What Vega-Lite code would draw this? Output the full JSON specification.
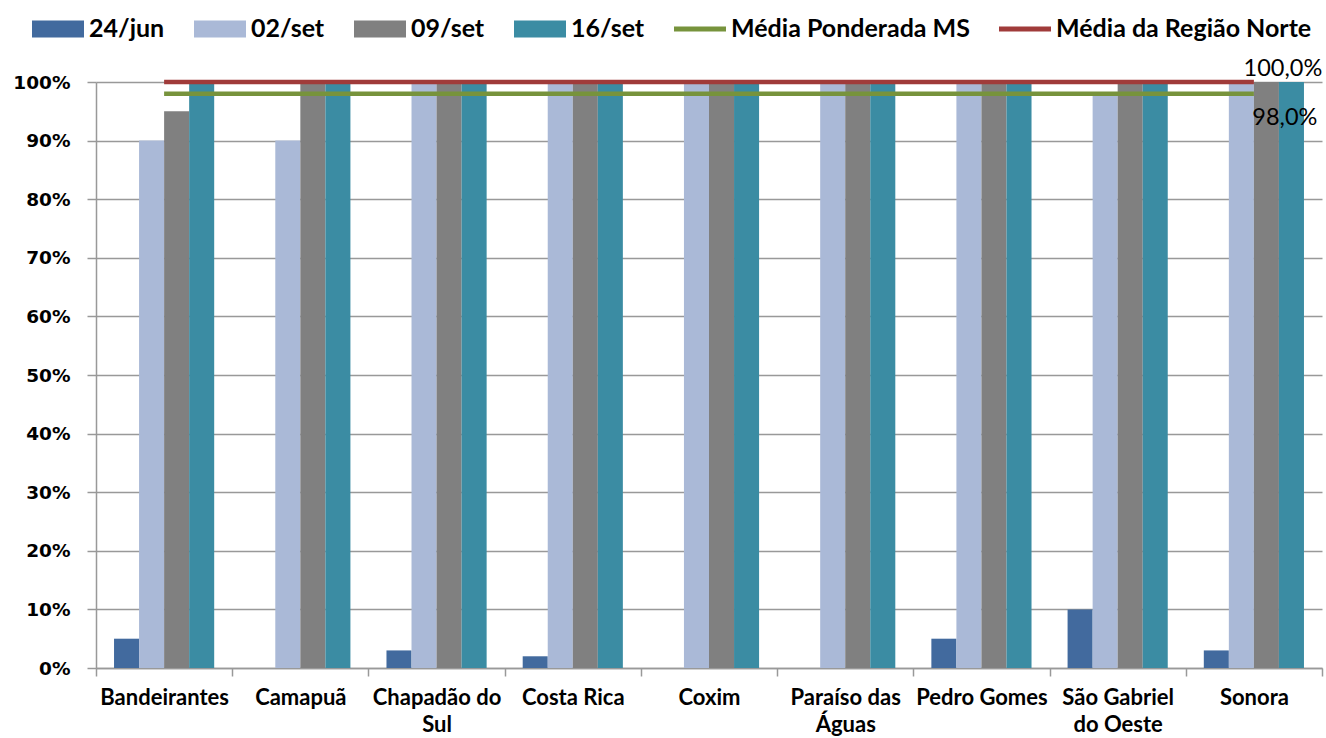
{
  "$schema": "https://vega.github.io/schema/vega-lite/v6.json",
  "width": 1226,
  "height": 586,
  "autosize": {"type": "none"},
  "padding": {"left": 96, "top": 82, "right": 4, "bottom": 70},
  "background": "white",
  "config": {
    "locale": {"number": {"decimal": ",", "thousands": ".", "grouping": [3], "currency": ["R$", ""]}},
    "view": {"stroke": null}
  },
  "datasets": {
    "bars": [
      {"cat": "Bandeirantes", "series": "24/jun", "value": 0.05},
      {"cat": "Bandeirantes", "series": "02/set", "value": 0.90},
      {"cat": "Bandeirantes", "series": "09/set", "value": 0.95},
      {"cat": "Bandeirantes", "series": "16/set", "value": 1.00},
      {"cat": "Camapuã", "series": "02/set", "value": 0.90},
      {"cat": "Camapuã", "series": "09/set", "value": 1.00},
      {"cat": "Camapuã", "series": "16/set", "value": 1.00},
      {"cat": "Chapadão do Sul", "series": "24/jun", "value": 0.03},
      {"cat": "Chapadão do Sul", "series": "02/set", "value": 1.00},
      {"cat": "Chapadão do Sul", "series": "09/set", "value": 1.00},
      {"cat": "Chapadão do Sul", "series": "16/set", "value": 1.00},
      {"cat": "Costa Rica", "series": "24/jun", "value": 0.02},
      {"cat": "Costa Rica", "series": "02/set", "value": 1.00},
      {"cat": "Costa Rica", "series": "09/set", "value": 1.00},
      {"cat": "Costa Rica", "series": "16/set", "value": 1.00},
      {"cat": "Coxim", "series": "02/set", "value": 1.00},
      {"cat": "Coxim", "series": "09/set", "value": 1.00},
      {"cat": "Coxim", "series": "16/set", "value": 1.00},
      {"cat": "Paraíso das Águas", "series": "02/set", "value": 1.00},
      {"cat": "Paraíso das Águas", "series": "09/set", "value": 1.00},
      {"cat": "Paraíso das Águas", "series": "16/set", "value": 1.00},
      {"cat": "Pedro Gomes", "series": "24/jun", "value": 0.05},
      {"cat": "Pedro Gomes", "series": "02/set", "value": 1.00},
      {"cat": "Pedro Gomes", "series": "09/set", "value": 1.00},
      {"cat": "Pedro Gomes", "series": "16/set", "value": 1.00},
      {"cat": "São Gabriel do Oeste", "series": "24/jun", "value": 0.10},
      {"cat": "São Gabriel do Oeste", "series": "02/set", "value": 0.98},
      {"cat": "São Gabriel do Oeste", "series": "09/set", "value": 1.00},
      {"cat": "São Gabriel do Oeste", "series": "16/set", "value": 1.00},
      {"cat": "Sonora", "series": "24/jun", "value": 0.03},
      {"cat": "Sonora", "series": "02/set", "value": 1.00},
      {"cat": "Sonora", "series": "09/set", "value": 1.00},
      {"cat": "Sonora", "series": "16/set", "value": 1.00}
    ],
    "lines": [
      {"cat": "Bandeirantes", "series": "Média Ponderada MS", "value": 0.98},
      {"cat": "Camapuã", "series": "Média Ponderada MS", "value": 0.98},
      {"cat": "Chapadão do Sul", "series": "Média Ponderada MS", "value": 0.98},
      {"cat": "Costa Rica", "series": "Média Ponderada MS", "value": 0.98},
      {"cat": "Coxim", "series": "Média Ponderada MS", "value": 0.98},
      {"cat": "Paraíso das Águas", "series": "Média Ponderada MS", "value": 0.98},
      {"cat": "Pedro Gomes", "series": "Média Ponderada MS", "value": 0.98},
      {"cat": "São Gabriel do Oeste", "series": "Média Ponderada MS", "value": 0.98},
      {"cat": "Sonora", "series": "Média Ponderada MS", "value": 0.98},
      {"cat": "Bandeirantes", "series": "Média da Região Norte", "value": 1.0},
      {"cat": "Camapuã", "series": "Média da Região Norte", "value": 1.0},
      {"cat": "Chapadão do Sul", "series": "Média da Região Norte", "value": 1.0},
      {"cat": "Costa Rica", "series": "Média da Região Norte", "value": 1.0},
      {"cat": "Coxim", "series": "Média da Região Norte", "value": 1.0},
      {"cat": "Paraíso das Águas", "series": "Média da Região Norte", "value": 1.0},
      {"cat": "Pedro Gomes", "series": "Média da Região Norte", "value": 1.0},
      {"cat": "São Gabriel do Oeste", "series": "Média da Região Norte", "value": 1.0},
      {"cat": "Sonora", "series": "Média da Região Norte", "value": 1.0}
    ]
  },
  "layer": [
    {
      "data": {"name": "bars"},
      "mark": {"type": "bar"},
      "encoding": {
        "x": {
          "field": "cat", "type": "nominal",
          "sort": ["Bandeirantes", "Camapuã", "Chapadão do Sul", "Costa Rica", "Coxim", "Paraíso das Águas", "Pedro Gomes", "São Gabriel do Oeste", "Sonora"],
          "scale": {
            "domain": ["Bandeirantes", "Camapuã", "Chapadão do Sul", "Costa Rica", "Coxim", "Paraíso das Águas", "Pedro Gomes", "São Gabriel do Oeste", "Sonora"],
            "paddingInner": 0, "paddingOuter": 0
          },
          "axis": {
            "title": null, "labelAngle": 0, "tickBand": "extent", "grid": false,
            "ticks": true, "tickSize": 8, "tickColor": "#999999", "tickWidth": 1.5,
            "domainColor": "#999999", "domainWidth": 1.5,
            "labelFont": "Lato", "labelFontWeight": "bold", "labelFontSize": 22, "labelColor": "black",
            "labelPadding": 11, "labelBaseline": "top", "labelLineHeight": 27, "labelLimit": 300,
            "labelExpr": "datum.value == 'Chapadão do Sul' ? ['Chapadão do', 'Sul'] : datum.value == 'Paraíso das Águas' ? ['Paraíso das', 'Águas'] : datum.value == 'São Gabriel do Oeste' ? ['São Gabriel', 'do Oeste'] : datum.value"
          }
        },
        "xOffset": {
          "field": "series", "type": "nominal",
          "sort": ["24/jun", "02/set", "09/set", "16/set"],
          "scale": {"domain": ["24/jun", "02/set", "09/set", "16/set"], "paddingInner": 0, "paddingOuter": 0.72}
        },
        "y": {
          "field": "value", "type": "quantitative",
          "scale": {"domain": [0, 1], "nice": false},
          "axis": {
            "title": null, "format": ".0%", "values": [0, 0.1, 0.2, 0.3, 0.4, 0.5, 0.6, 0.7, 0.8, 0.9, 1.0],
            "grid": true, "gridColor": "#999999", "gridWidth": 1.5,
            "domainColor": "#999999", "domainWidth": 1.5,
            "tickColor": "#999999", "tickSize": 9, "tickWidth": 1.5,
            "labelFont": "DejaVu Sans", "labelFontWeight": "bold", "labelFontSize": 18.5, "labelColor": "black",
            "labelPadding": 17
          }
        },
        "color": {
          "field": "series", "type": "nominal",
          "scale": {
            "domain": ["24/jun", "02/set", "09/set", "16/set", "Média Ponderada MS", "Média da Região Norte"],
            "range": ["#426A9E", "#AAB9D7", "#808080", "#3B8CA3", "#77933C", "#A03B3A"]
          },
          "legend": {
            "orient": "none", "legendX": -64, "legendY": -79, "direction": "horizontal", "columns": 6,
            "title": null, "padding": 0,
            "labelFont": "Lato", "labelFontWeight": "bold", "labelFontSize": 25, "labelColor": "black",
            "labelLimit": 400, "labelOffset": 5, "columnPadding": 29,
            "symbolSize": 2704,
            "encode": {
              "symbols": {
                "update": {
                  "shape": {"signal": "indexof(['Média Ponderada MS', 'Média da Região Norte'], datum.value) >= 0 ? 'M-1,-0.1H1V0.1H-1Z' : 'M-1,-0.33H1V0.33H-1Z'"},
                  "fill": {"signal": "scale('color', datum.value)"},
                  "stroke": {"value": "transparent"},
                  "strokeWidth": {"value": 0},
                  "opacity": {"value": 1},
                  "fillOpacity": {"value": 1}
                }
              }
            }
          }
        }
      }
    },
    {
      "data": {"name": "lines"},
      "mark": {"type": "line", "strokeWidth": 4.5},
      "encoding": {
        "x": {"field": "cat", "type": "nominal", "sort": ["Bandeirantes", "Camapuã", "Chapadão do Sul", "Costa Rica", "Coxim", "Paraíso das Águas", "Pedro Gomes", "São Gabriel do Oeste", "Sonora"]},
        "y": {"field": "value", "type": "quantitative"},
        "color": {"field": "series", "type": "nominal"}
      }
    },
    {
      "data": {"name": "lines"},
      "transform": [{"filter": "datum.cat == 'Sonora' && datum.series == 'Média da Região Norte'"}],
      "mark": {"type": "text", "font": "Lato", "fontSize": 23.5, "color": "black", "dx": 29, "dy": -1, "baseline": "bottom", "align": "center"},
      "encoding": {
        "x": {"field": "cat", "type": "nominal", "sort": ["Bandeirantes", "Camapuã", "Chapadão do Sul", "Costa Rica", "Coxim", "Paraíso das Águas", "Pedro Gomes", "São Gabriel do Oeste", "Sonora"]},
        "y": {"field": "value", "type": "quantitative"},
        "text": {"field": "value", "type": "quantitative", "format": ".1%"}
      }
    },
    {
      "data": {"name": "lines"},
      "transform": [{"filter": "datum.cat == 'Sonora' && datum.series == 'Média Ponderada MS'"}],
      "mark": {"type": "text", "font": "Lato", "fontSize": 23.5, "color": "black", "dx": 31, "dy": 24, "baseline": "middle", "align": "center"},
      "encoding": {
        "x": {"field": "cat", "type": "nominal", "sort": ["Bandeirantes", "Camapuã", "Chapadão do Sul", "Costa Rica", "Coxim", "Paraíso das Águas", "Pedro Gomes", "São Gabriel do Oeste", "Sonora"]},
        "y": {"field": "value", "type": "quantitative"},
        "text": {"field": "value", "type": "quantitative", "format": ".1%"}
      }
    }
  ]
}
